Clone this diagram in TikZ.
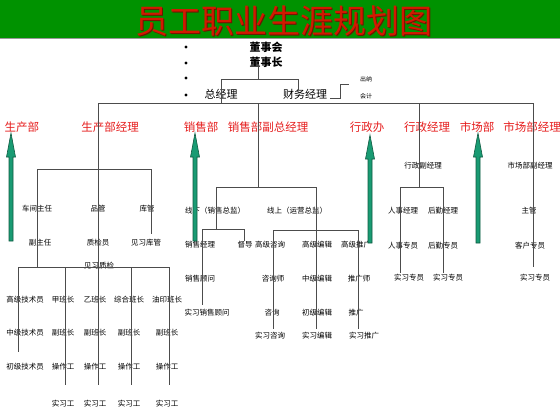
\documentclass[tikz,border=0pt]{standalone}
\usepackage{fontspec}
\setmainfont{Noto Sans CJK SC}
\usepackage{tikz}
\usetikzlibrary{positioning, calc}
\definecolor{BannerGreen}{RGB}{0,146,0}
\definecolor{TitleRed}{RGB}{210,25,0}
\definecolor{TitleShade}{RGB}{110,20,0}
\definecolor{HeadRed}{RGB}{230,30,30}
\definecolor{ArrowGreen}{RGB}{25,155,115}
\definecolor{ArrowEdge}{RGB}{15,90,65}
\tikzstyle{chartline} = [draw=black!70, line width=0.9pt]
\tikzstyle{tinylabel} = [inner sep=0pt, font=\fontsize{7.5}{9}\selectfont]
\tikzstyle{dept} = [inner sep=0pt, text=HeadRed, font=\fontsize{11.5}{13}\selectfont]
\tikzstyle{boss} = [inner sep=0pt, font=\fontsize{11}{13}\selectfont]
\newcommand{\greenarrow}[3]{%
  \filldraw[fill=ArrowGreen, draw=ArrowEdge, line width=0.6pt]
    (#1-2,#2) -- (#1-2,#3+24) -- (#1-4.5,#3+24) -- (#1,#3)
    -- (#1+4.5,#3+24) -- (#1+2,#3+24) -- (#1+2,#2) -- cycle;}

\begin{document}
\begin{tikzpicture}[x=1pt, y=-1pt]
\useasboundingbox (0,0) rectangle (560,416);
\fill[white] (0,0) rectangle (560,416);

% banner
\fill[BannerGreen] (0,0) rectangle (560,38);
\draw[black!40, line width=0.8pt] (0,38.5) -- (560,38.5);
\node[inner sep=0pt, text=TitleShade, font=\fontsize{33}{33}\selectfont] (titleShade) at (285.2,22.2) {员工职业生涯规划图};
\node[inner sep=0pt, text=TitleRed, font=\fontsize{33}{33}\selectfont] (title) at (284,21) {员工职业生涯规划图};

% board
\foreach \y in {47,63,78,95} \fill (186,\y) circle (1.6);
\node[boss] (board) at (266,47) {\bfseries 董事会};
\node[boss] (chair) at (266,62) {\bfseries 董事长};
\node[boss] (gm) at (221,94) {总经理};
\node[boss] (cfo) at (305,94) {财务经理};
\node[inner sep=0pt, font=\fontsize{6}{7}\selectfont] (cashier) at (366,79) {出纳};
\node[inner sep=0pt, font=\fontsize{6}{7}\selectfont] (accountant) at (366,96) {会计};

% departments
\node[dept] (prodDept) at (22,127) {生产部};
\node[dept] (prodMgr) at (110,127) {生产部经理};
\node[dept] (salesDept) at (201,127) {销售部};
\node[dept] (salesVP) at (268,127) {销售部副总经理};
\node[dept] (adminOffice) at (367,127) {行政办};
\node[dept] (adminMgr) at (427,127) {行政经理};
\node[dept] (mktDept) at (477,127) {市场部};
\node[dept] (mktMgr) at (532,127) {市场部经理};

% production
\node[tinylabel] (workshop) at (37,209) {车间主任};
\node[tinylabel] (qcMgr) at (98,209) {品管};
\node[tinylabel] (store) at (147,209) {库管};
\node[tinylabel] (deputy) at (40,243) {副主任};
\node[tinylabel] (inspector) at (98,243) {质检员};
\node[tinylabel] (storeTrainee) at (146,243) {见习库管};
\node[tinylabel] (qcTrainee) at (99,266) {见习质检};
\node[tinylabel] (techA) at (25,300) {高级技术员};
\node[tinylabel] (techB) at (25,333) {中级技术员};
\node[tinylabel] (techC) at (25,367) {初级技术员};
\foreach \n/\x/\lead in {A/63/甲班长, B/95/乙班长, C/129/综合班长, D/167/油印班长} {
  \node[tinylabel] (lead\n) at (\x,300) {\lead};
  \node[tinylabel] (sub\n) at (\x,333) {副班长};
  \node[tinylabel] (op\n) at (\x,367) {操作工};
  \node[tinylabel] (intern\n) at (\x,404) {实习工};
}

% sales
\node[tinylabel] (offline) at (215,211) {线下（销售总监）};
\node[tinylabel] (online) at (297,211) {线上（运营总监）};
\node[tinylabel] (salesMgr) at (200,245) {销售经理};
\node[tinylabel] (supervisor) at (245,245) {督导};
\node[tinylabel] (seniorConsult) at (270,245) {高级咨询};
\node[tinylabel] (seniorEditor) at (317,245) {高级编辑};
\node[tinylabel] (seniorPromo) at (356,245) {高级推广};
\node[tinylabel] (salesAdvisor) at (200,279) {销售顾问};
\node[tinylabel] (consultant) at (273,279) {咨询师};
\node[tinylabel] (midEditor) at (317,279) {中级编辑};
\node[tinylabel] (promoter) at (359,279) {推广师};
\node[tinylabel] (traineeAdvisor) at (207,313) {实习销售顾问};
\node[tinylabel] (consult) at (272,313) {咨询};
\node[tinylabel] (juniorEditor) at (317,313) {初级编辑};
\node[tinylabel] (promo) at (356,313) {推广};
\node[tinylabel] (internConsult) at (270,336) {实习咨询};
\node[tinylabel] (internEditor) at (317,336) {实习编辑};
\node[tinylabel] (internPromo) at (364,336) {实习推广};

% admin
\node[tinylabel] (adminDeputy) at (423,166) {行政副经理};
\node[tinylabel] (hrMgr) at (403,211) {人事经理};
\node[tinylabel] (logMgr) at (443,211) {后勤经理};
\node[tinylabel] (hrStaff) at (403,246) {人事专员};
\node[tinylabel] (logStaff) at (443,246) {后勤专员};
\node[tinylabel] (hrIntern) at (409,278) {实习专员};
\node[tinylabel] (logIntern) at (448,278) {实习专员};

% market
\node[tinylabel] (mktDeputy) at (530,166) {市场部副经理};
\node[tinylabel] (mktLead) at (529,211) {主管};
\node[tinylabel] (clientStaff) at (530,246) {客户专员};
\node[tinylabel] (mktIntern) at (535,278) {实习专员};

% top lines
\coordinate (boardFork) at (258,79);
\coordinate (mainL) at (98,103);
\coordinate (mainR) at (533,103);
\draw[chartline] (chair.south -| boardFork) -- (boardFork);
\draw[chartline] (gm |- mainL) -- (gm |- boardFork) -- ([xshift=-7pt]cfo.north |- boardFork) -- ([xshift=-7pt]cfo.north);
\coordinate (finA) at (330,98);
\coordinate (finB) at (349,84);
\draw[chartline] (finA) -- (340,98) -- (340,84) -- (finB);
\draw[chartline] (mainL) -- (mainR);

% production lines
\coordinate (prodL) at (37,169);
\coordinate (prodR) at (151,169);
\coordinate (storeEnd) at (151,234);
\coordinate (teamL) at (18,267);
\coordinate (teamR) at (170,267);
\coordinate (techEnd) at (18,352);
\coordinate (crewEnd) at (0,385);
\draw[chartline] (mainL) -- (mainL |- crewEnd);
\draw[chartline] (prodL) -- (prodR) -- (storeEnd);
\draw[chartline] (prodL) -- (prodL |- teamL);
\draw[chartline] (teamL) -- (teamR);
\draw[chartline] (teamL) -- (techEnd);
\foreach \n in {A,C,D}
  \draw[chartline] ([xshift=2.5pt]lead\n |- teamL) -- ([xshift=2.5pt]lead\n |- crewEnd);

% sales lines
\coordinate (salesL) at (216,187);
\coordinate (salesR) at (316,187);
\coordinate (offL) at (202,229);
\coordinate (offR) at (244,229);
\coordinate (offEnd) at (202,305);
\coordinate (onL) at (273,230);
\coordinate (onR) at (358,230);
\coordinate (onEnd) at (0,329);
\draw[chartline] (boardFork |- mainL) -- (boardFork |- salesL);
\draw[chartline] (salesL) -- (salesR);
\draw[chartline] (salesL) -- (salesL |- offL);
\draw[chartline] (offL) -- (offR) -- (offR |- supervisor.north);
\draw[chartline] (offL) -- (offEnd);
\draw[chartline] (salesR) -- (salesR |- onEnd);
\draw[chartline] (onL) -- (onR);
\draw[chartline] (onL) -- (onL |- onEnd);
\draw[chartline] (onR) -- (onR |- onEnd);

% admin and market lines
\coordinate (adminTop) at (419,103);
\coordinate (adminL) at (400,187);
\coordinate (adminR) at (443,187);
\coordinate (adminEnd) at (0,273);
\coordinate (mktEnd) at (533,267);
\draw[chartline] (adminTop) -- (adminTop |- adminL);
\draw[chartline] (adminL) -- (adminR);
\draw[chartline] (adminL) -- (adminL |- adminEnd);
\draw[chartline] (adminR) -- (adminR |- adminEnd);
\draw[chartline] (mainR) -- (mktEnd);

% arrows
\greenarrow{11}{241}{133}
\greenarrow{195}{241}{133}
\greenarrow{370}{243}{135}
\greenarrow{478}{243}{133}
\end{tikzpicture}
\end{document}
